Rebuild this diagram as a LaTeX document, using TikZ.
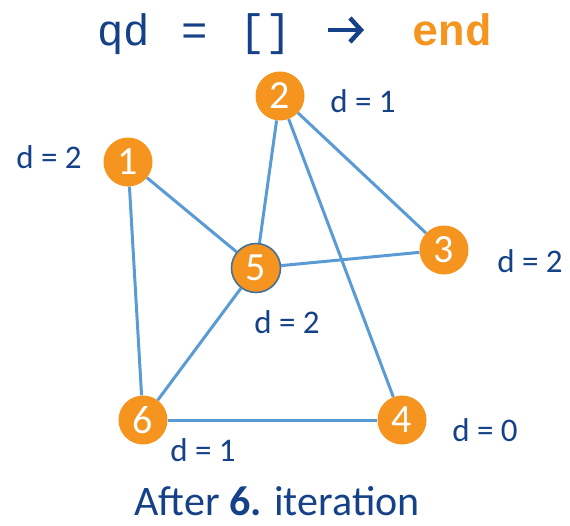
\documentclass[tikz,border=0pt]{standalone}
\usepackage{fontspec}
\setmainfont{Liberation Mono}
\newfontfamily\bodyfont{Carlito}
\usetikzlibrary{arrows.meta}
\definecolor{vorange}{RGB}{245,148,30}
\definecolor{edgeblue}{RGB}{91,155,213}
\definecolor{txtblue}{RGB}{20,65,135}
\definecolor{ringblue}{RGB}{65,113,156}
\tikzset{
  vert/.style={circle, fill=vorange, minimum size=49pt, inner sep=0pt, text=white,
    font=\bodyfont\fontsize{40}{40}\selectfont},
  edge/.style={draw=edgeblue, line width=3pt},
  dlab/.style={text=txtblue, font=\bodyfont\fontsize{33}{33}\selectfont, inner sep=0pt},
  ttl/.style={text=txtblue, inner sep=0pt, anchor=base, font=\fontsize{44}{44}\selectfont}
}
\begin{document}
\begin{tikzpicture}[x=1pt,y=-1pt]
\useasboundingbox (0,0) rectangle (570,525);
% title
\node[ttl] (tq) at (124,45) {qd};
\node[ttl] (te) at (195,45) {=};
\node[ttl] (tb) at (266,45) {[]};
\node[ttl, text=vorange, font=\bfseries\fontsize{44}{44}\selectfont] (tend) at (452,45) {end};
\coordinate (a1) at (328,30);
\coordinate (a2) at (364,30);
\draw[txtblue, line width=4.5pt, -{Straight Barb[length=11pt,width=24pt,line width=4.5pt]}] (a1) -- (a2);
% vertices
\node[vert] (n1) at (128,162) {1};
\node[vert] (n2) at (280,96) {2};
\node[vert] (n3) at (444,250) {3};
\node[vert] (n4) at (402,420) {4};
\node[vert, draw=ringblue, line width=1.6pt] (n5) at (256,268) {5};
\node[vert] (n6) at (143,420) {6};
% edges
\draw[edge] (n1) -- (n5);
\draw[edge] (n1) -- (n6);
\draw[edge] (n2) -- (n5);
\draw[edge] (n2) -- (n3);
\draw[edge] (n2) -- (n4);
\draw[edge] (n5) -- (n3);
\draw[edge] (n5) -- (n6);
\draw[edge] (n6) -- (n4);
% labels
\node[dlab] (l1) at (49,157) {d = 2};
\node[dlab] (l2) at (363,101) {d = 1};
\node[dlab] (l3) at (530,261) {d = 2};
\node[dlab] (l5) at (287,322) {d = 2};
\node[dlab] (l4) at (485,430) {d = 0};
\node[dlab] (l6) at (203,450) {d = 1};
\node[text=txtblue, font=\bodyfont\fontsize{42}{42}\selectfont, inner sep=0pt, anchor=base] (cap) at (277,515) {After \textbf{6.} iteration};
\end{tikzpicture}
\end{document}
